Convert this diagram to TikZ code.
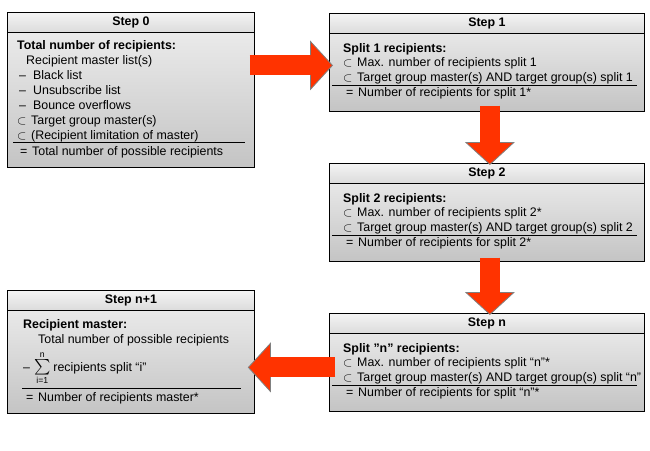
\documentclass[tikz,border=0pt]{standalone}
\usepackage{amsmath,amssymb}
\usepackage{graphicx}
\usepackage{fontspec}
\setmainfont{Liberation Sans}[Ligatures=ResetAll]
\usepackage{tikz}
\usetikzlibrary{calc,arrows.meta}

\definecolor{arrowred}{HTML}{FF3300}
\definecolor{arrowedge}{HTML}{808080}
\definecolor{boxtop}{HTML}{F0F0F0}
\definecolor{boxbottom}{HTML}{C4C4C4}
\definecolor{headtop}{HTML}{F4F4F4}
\definecolor{headbottom}{HTML}{DCDCDC}

\newcommand{\symb}[1]{\makebox[14pt][l]{#1}}
\newcommand{\eqsymb}{\hspace*{3pt}\makebox[12pt][l]{=}}

\begin{document}
\begin{tikzpicture}[
    x=1pt, y=-1pt,
    font=\fontsize{12.4}{15}\selectfont,
    smallbox/.style={draw, line width=0.8pt, anchor=north west, inner sep=0pt, minimum width=247pt, top color=boxtop, bottom color=boxbottom},
    widebox/.style={draw, line width=0.8pt, anchor=north west, inner sep=0pt, minimum width=315pt, minimum height=98pt, top color=boxtop, bottom color=boxbottom},
    smallhead/.style={draw, line width=0.8pt, anchor=north west, inner sep=0pt, minimum width=247pt, minimum height=19.5pt, font=\fontsize{12.4}{15}\selectfont\bfseries, top color=headtop, bottom color=headbottom},
    widehead/.style={smallhead, minimum width=315pt},
    bodytext/.style={anchor=base west, align=left, inner sep=0pt},
    eqrule/.style={draw, line width=0.8pt},
    fatarrow/.style={draw=arrowred, line width=20pt,
        -{Triangle[length=23pt 0 0, width=50pt 0 0, line width=0.8pt, color=arrowedge, fill=arrowred]},
        postaction={draw=arrowred, line width=20pt, -, shorten >=21pt}}
]
\useasboundingbox (0,0) rectangle (650,450);

% Step 0 (base of a text block = its last line)
\node[smallbox, minimum height=155pt] (s0box) at (7,12) {};
\node[smallhead] (s0head) at (7,12) {Step 0};
\node[bodytext] (s0txt) at (17,139.5) {\textbf{Total number of recipients:}\\
  \hspace*{9pt}Recipient master list(s)\\
  \hspace*{2pt}\symb{–}Black list\\
  \hspace*{2pt}\symb{–}Unsubscribe list\\
  \hspace*{2pt}\symb{–}Bounce overflows\\
  \symb{$\subset$}Target group master(s)\\
  \symb{$\subset$}(Recipient limitation of master)};
\draw[eqrule] (13,142) -- (245,142);
\node[bodytext] (s0res) at (17,155.5) {\eqsymb Total number of possible recipients};

% Step 1
\node[widebox] (s1box) at (329,13) {};
\node[widehead] (s1head) at (329,13) {Step 1};
\node[bodytext, font=\fontsize{12.4}{14.6}\selectfont] (s1txt) at (343,81.5) {\textbf{Split 1 recipients:}\\
  \symb{$\subset$}Max. number of recipients split 1\\
  \symb{$\subset$}Target group master(s) AND target group(s) split 1};
\draw[eqrule] (332,85) -- (637,85);
\node[bodytext] (s1res) at (343,96.5) {\eqsymb Number of recipients for split 1*};

% Step 2
\node[widebox] (s2box) at (329,163) {};
\node[widehead] (s2head) at (329,163) {Step 2};
\node[bodytext, font=\fontsize{12.4}{14.6}\selectfont] (s2txt) at (343,231.5) {\textbf{Split 2 recipients:}\\
  \symb{$\subset$}Max. number of recipients split 2*\\
  \symb{$\subset$}Target group master(s) AND target group(s) split 2};
\draw[eqrule] (332,235) -- (637,235);
\node[bodytext] (s2res) at (343,246.5) {\eqsymb Number of recipients for split 2*};

% Step n
\node[widebox] (snbox) at (329,313) {};
\node[widehead] (snhead) at (329,313) {Step n};
\node[bodytext, font=\fontsize{12.4}{14.6}\selectfont] (sntxt) at (343,381.5) {\textbf{Split "n" recipients:}\\
  \symb{$\subset$}Max. number of recipients split “n”*\\
  \symb{$\subset$}Target group master(s) AND target group(s) split “n”};
\draw[eqrule] (332,385) -- (637,385);
\node[bodytext] (snres) at (343,396.5) {\eqsymb Number of recipients for split “n”*};

% Step n+1
\node[smallbox, minimum height=123pt] (sn1box) at (7,290) {};
\node[smallhead] (sn1head) at (7,290) {Step n+1};
\node[bodytext] (sn1txt) at (23,343.5) {\textbf{Recipient master:}\\
  \hspace*{15pt}Total number of possible recipients};
\node[bodytext, anchor=west] (sn1sum) at (23,368) {–\hspace{4pt}$\mathop{\scalebox{1.25}{$\textstyle\sum$}}\limits_{\text{i=1}}^{\text{n}}$\hspace{3pt}recipients split “i”};
\draw[eqrule] (22,388) -- (241,388);
\node[bodytext] (sn1res) at (23,401.5) {\eqsymb Number of recipients master*};

% fat arrows between the steps
\draw[fatarrow] ($(s0box.east)+(-5,-24.5)$) -- ($(s1box.west)+(4,3)$);
\draw[fatarrow] ($(s1box.south)+(3,-6)$) -- ($(s2box.north)+(3,2)$);
\draw[fatarrow] ($(s2box.south)+(3,-4)$) -- ($(snbox.north)+(3,2)$);
\draw[fatarrow] ($(snbox.west)+(6,5)$) -- ($(sn1box.east)+(-7,15.5)$);

\end{tikzpicture}
\end{document}
